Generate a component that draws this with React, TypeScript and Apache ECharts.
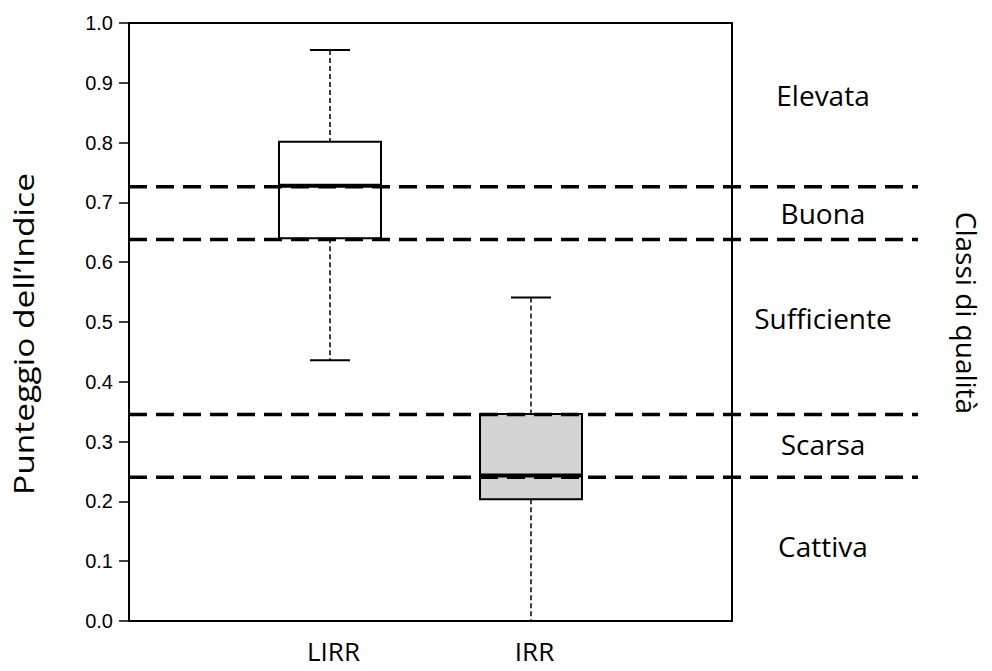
import React, { useEffect, useRef } from "react";
import * as echarts from "echarts";

const categories = ["LIRR", "IRR"];
const whiskerMin = [0.436, 0.0];
const q1 = [0.640, 0.2035];
const median = [0.728, 0.2435];
const q3 = [0.8015, 0.346];
const whiskerMax = [0.955, 0.541];
const boxFill = ["#ffffff", "#d3d3d3"];

const thresholds = [0.726, 0.638, 0.3455, 0.2405];
const classNames = ["Elevata", "Buona", "Sufficiente", "Scarsa", "Cattiva"];
const classLabelValues = [0.879, 0.683, 0.506, 0.296, 0.126];

const yTicks = [0, 0.1, 0.2, 0.3, 0.4, 0.5, 0.6, 0.7, 0.8, 0.9, 1.0];

const TITLE_FONT = "'Open Sans', 'Noto Sans', sans-serif";
const TICK_FONT = "'Liberation Sans', Arial, sans-serif";

export default function App() {
  const ref = useRef<HTMLDivElement>(null);
  useEffect(() => {
    if (!ref.current) return;
    const chart = echarts.init(ref.current, null, { renderer: "svg" });
    const xData = ["", ...categories, ""];
    const boxData = categories.map((c, i) => [
      i + 1,
      whiskerMin[i],
      q1[i],
      median[i],
      q3[i],
      whiskerMax[i],
    ]);
    const option = {
      animation: false,
      grid: {
        left: 129,
        top: 23,
        width: 603,
        height: 598,
        show: true,
        borderColor: "#000",
        borderWidth: 2,
        backgroundColor: "transparent",
      },
      xAxis: {
        type: "category",
        data: xData,
        boundaryGap: false,
        axisLine: { lineStyle: { color: "#000", width: 2 } },
        axisTick: { show: false },
        axisLabel: {
          color: "#000",
          fontFamily: TITLE_FONT,
          fontSize: 26,
          lineHeight: 24,
          margin: 18,
          padding: [0, 0, 0, 7],
        },
        splitLine: { show: false },
      },
      yAxis: {
        type: "value",
        min: 0,
        max: yTicks[yTicks.length - 1],
        interval: 0.1,
        axisLine: { show: true, lineStyle: { color: "#000", width: 2 } },
        axisTick: { show: true, length: 10, lineStyle: { color: "#000", width: 1.5 } },
        axisLabel: {
          color: "#000",
          fontFamily: TICK_FONT,
          fontSize: 20,
          margin: 16,
          formatter: (v: number) => v.toFixed(1),
        },
        splitLine: { show: false },
      },
      graphic: [
        {
          type: "text",
          x: 23,
          y: 334,
          rotation: Math.PI / 2,
          scaleX: 1.2,
          style: {
            text: "Punteggio dell\u2019Indice",
            fontFamily: TITLE_FONT,
            fontSize: 28,
            fill: "#000",
            align: "center",
            verticalAlign: "middle",
          },
        },
        {
          type: "text",
          x: 967,
          y: 313,
          rotation: -Math.PI / 2,
          style: {
            text: "Classi di qualit\u00e0",
            fontFamily: TITLE_FONT,
            fontSize: 28,
            fill: "#000",
            align: "center",
            verticalAlign: "middle",
          },
        },
      ],
      series: [
        {
          type: "custom",
          name: "box",
          z: 2,
          data: boxData,
          renderItem: (params: any, api: any) => {
            const x = api.value(0);
            const pMin = api.coord([x, api.value(1)]);
            const pQ1 = api.coord([x, api.value(2)]);
            const pMed = api.coord([x, api.value(3)]);
            const pQ3 = api.coord([x, api.value(4)]);
            const pMax = api.coord([x, api.value(5)]);
            const cx = pMin[0];
            const hw = 51;
            const cw = 20;
            const fill = boxFill[params.dataIndex];
            return {
              type: "group",
              children: [
                {
                  type: "line",
                  shape: { x1: cx, y1: pMax[1], x2: cx, y2: pQ3[1] },
                  style: { stroke: "#000", lineWidth: 1.5, lineDash: [5, 3] },
                },
                {
                  type: "line",
                  shape: { x1: cx, y1: pQ1[1], x2: cx, y2: pMin[1] },
                  style: { stroke: "#000", lineWidth: 1.5, lineDash: [5, 3] },
                },
                {
                  type: "line",
                  shape: { x1: cx - cw, y1: pMax[1], x2: cx + cw, y2: pMax[1] },
                  style: { stroke: "#000", lineWidth: 2 },
                },
                {
                  type: "line",
                  shape: { x1: cx - cw, y1: pMin[1], x2: cx + cw, y2: pMin[1] },
                  style: { stroke: "#000", lineWidth: 2 },
                },
                {
                  type: "rect",
                  shape: { x: cx - hw, y: pQ3[1], width: hw * 2, height: pQ1[1] - pQ3[1] },
                  style: { fill, stroke: "#000", lineWidth: 2 },
                },
                {
                  type: "line",
                  shape: { x1: cx - hw, y1: pMed[1], x2: cx + hw, y2: pMed[1] },
                  style: { stroke: "#000", lineWidth: 4 },
                },
              ],
            };
          },
        },
        {
          type: "custom",
          name: "thresholds",
          z: 3,
          data: thresholds.map((t) => [0, t]),
          renderItem: (params: any, api: any) => {
            const cs = params.coordSys;
            const y = api.coord([0, api.value(1)])[1];
            return {
              type: "line",
              shape: { x1: cs.x, y1: y, x2: cs.x + cs.width + 186, y2: y },
              style: { stroke: "#000", lineWidth: 3.5, lineDash: [18, 9] },
            };
          },
        },
        {
          type: "custom",
          name: "classes",
          z: 3,
          data: classLabelValues.map((v) => [0, v]),
          renderItem: (params: any, api: any) => {
            const cs = params.coordSys;
            const y = api.coord([0, api.value(1)])[1];
            return {
              type: "text",
              x: cs.x + cs.width + 91,
              y,
              style: {
                text: classNames[params.dataIndex],
                fontFamily: TITLE_FONT,
                fontSize: 28,
                fill: "#000",
                align: "center",
                verticalAlign: "middle",
              },
            };
          },
        },
      ],
    };
    chart.setOption(option as any);
    return () => chart.dispose();
  }, []);
  return (
    <div
      ref={ref}
      style={{ position: "absolute", left: 0, top: 0, width: 992, height: 671, background: "#fff" }}
    />
  );
}
